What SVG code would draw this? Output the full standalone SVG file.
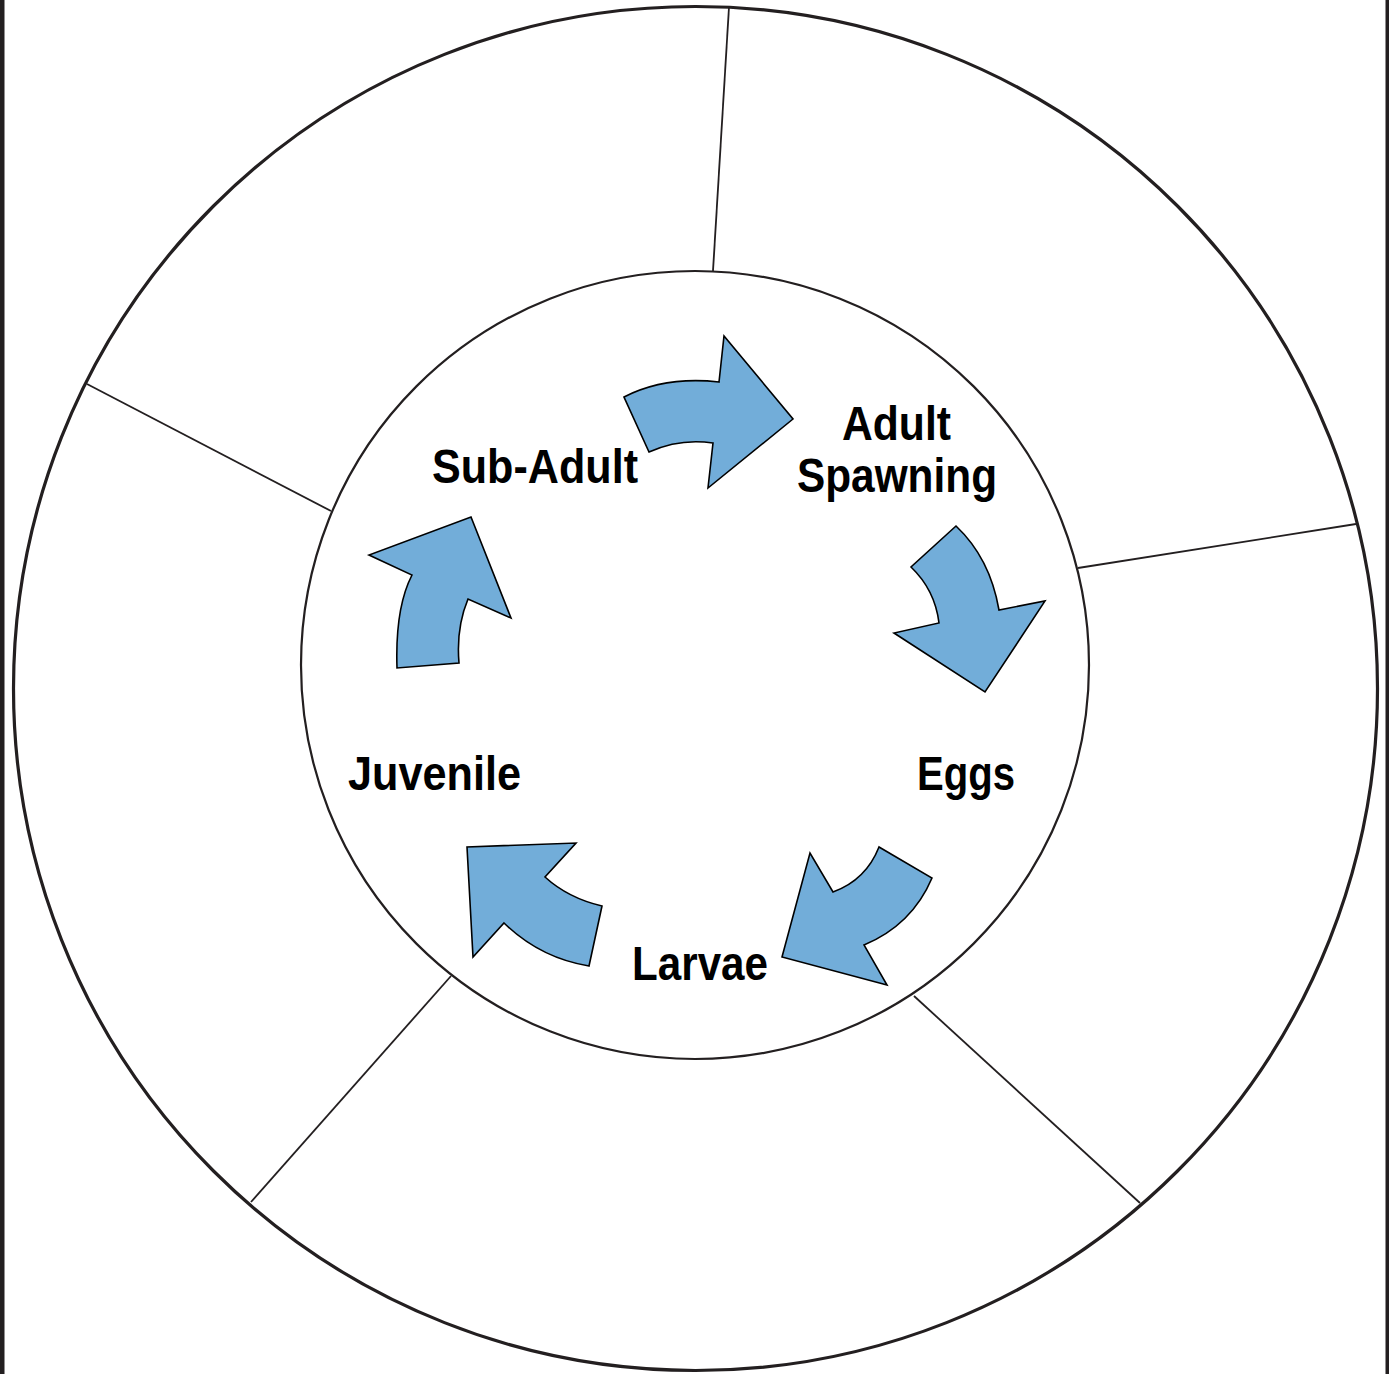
<svg xmlns="http://www.w3.org/2000/svg" width="1389" height="1374" viewBox="0 0 1389 1374">
<style>
.bar{fill:#231f20}
.ring{fill:none;stroke:#231f20}
.div{stroke:#231f20;stroke-width:1.8;fill:none}
.arrow{fill:#72add9;stroke:#000;stroke-width:1.6;stroke-linejoin:miter}
.lbl{font-family:"Liberation Sans",Arial,sans-serif;font-weight:bold;font-size:49px;fill:#000}
</style>
<rect width="1389" height="1374" fill="#fff"/>
<rect class="bar" x="0" y="0" width="4.5" height="1374"/>
<rect class="bar" x="1385.5" y="0" width="3.5" height="1374"/>
<g id="rings">
<circle class="ring" cx="695.5" cy="688.5" r="682" stroke-width="3.2"/>
<circle class="ring" cx="695" cy="665" r="394" stroke-width="2.2"/>
</g>
<g id="dividers">
<line class="div" x1="729" y1="7" x2="713" y2="271"/>
<line class="div" x1="1356" y1="524" x2="1078" y2="568"/>
<line class="div" x1="1140" y1="1203" x2="914" y2="996"/>
<line class="div" x1="251" y1="1202" x2="451" y2="976"/>
<line class="div" x1="87" y1="384" x2="331" y2="511"/>
</g>
<g id="connectors">
<path class="arrow" d="M624,397 Q665,376 719,382 L724,336 L793,419 L708,488 L713,443 Q680,438 649,452 Z"/>
<path class="arrow" d="M956,526 Q990,558 999,610 L1045,601 L985,692 L894,633 L939,623 Q935,590 911,567 Z"/>
<path class="arrow" d="M932,878 Q912,925 864,945 L887,985 L782,957 L810,853 L833,892 Q866,880 879,847 Z"/>
<path class="arrow" d="M602,906 Q568,898 545,877 L576,843 L467,847 L473,957 L504,923 Q540,958 589,966 Z"/>
<path class="arrow" d="M397,668 Q395,608 412,575 L369,555 L471,517 L511,618 L468,599 Q456,628 459,663 Z"/>
</g>
<g id="node-subadult"><text class="lbl" x="432" y="483" textLength="206" lengthAdjust="spacingAndGlyphs">Sub-Adult</text></g>
<g id="node-adult"><text class="lbl" x="842" y="440" textLength="109" lengthAdjust="spacingAndGlyphs">Adult</text><text class="lbl" x="797" y="492" textLength="200" lengthAdjust="spacingAndGlyphs">Spawning</text></g>
<g id="node-eggs"><text class="lbl" x="917" y="790" textLength="98" lengthAdjust="spacingAndGlyphs">Eggs</text></g>
<g id="node-larvae"><text class="lbl" x="632" y="980" textLength="136" lengthAdjust="spacingAndGlyphs">Larvae</text></g>
<g id="node-juvenile"><text class="lbl" x="348" y="790" textLength="173" lengthAdjust="spacingAndGlyphs">Juvenile</text></g>
</svg>
